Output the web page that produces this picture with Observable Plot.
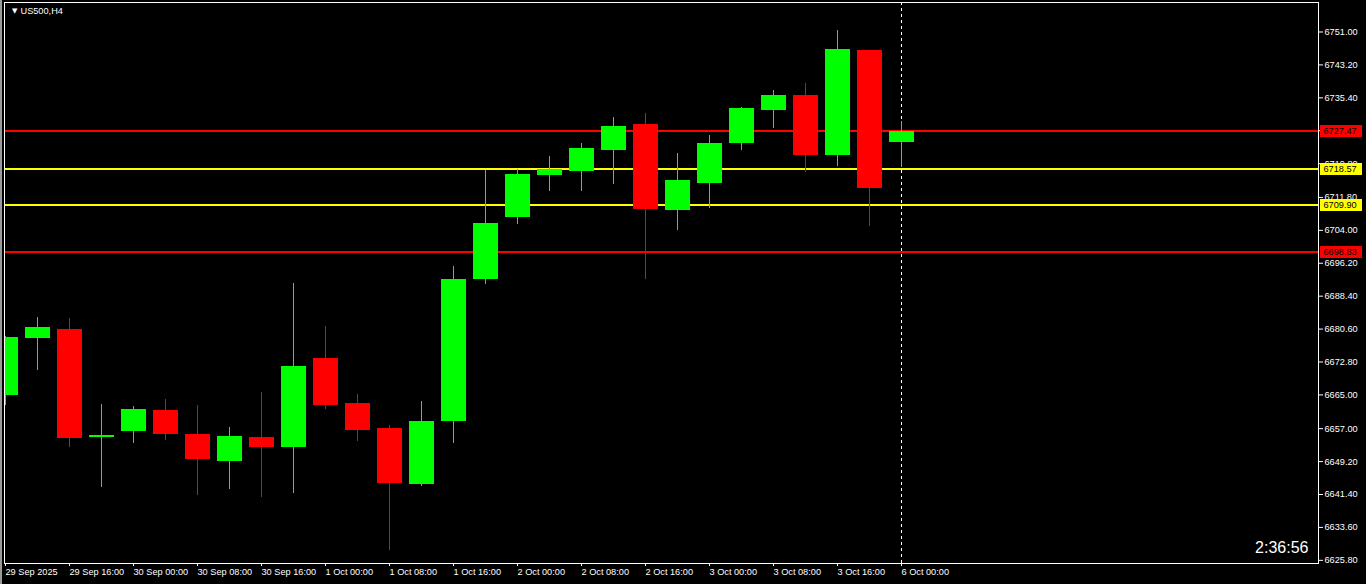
<!DOCTYPE html>
<html><head><meta charset="utf-8">
<script src="https://cdn.jsdelivr.net/npm/d3@7"></script>
<script src="https://cdn.jsdelivr.net/npm/@observablehq/plot@0.6"></script>
<style>
html,body{margin:0;padding:0;background:#000;}
#chart{position:relative;width:1366px;height:584px;overflow:hidden;background:#000;}
#chart svg{display:block;}
.edge{position:absolute;left:0;top:0;width:2px;height:584px;background:#9a9a9a;}
</style></head><body>
<div id="chart"><div class="edge"></div></div>
<script>
// ---- data (US500, H4) ----
const symbol = "US500,H4";
const timer = "2:36:56";
const times = ["29 Sep 08:00","29 Sep 12:00","29 Sep 16:00","29 Sep 20:00","30 Sep 00:00","30 Sep 04:00","30 Sep 08:00","30 Sep 12:00","30 Sep 16:00","30 Sep 20:00","1 Oct 00:00","1 Oct 04:00","1 Oct 08:00","1 Oct 12:00","1 Oct 16:00","1 Oct 20:00","2 Oct 00:00","2 Oct 04:00","2 Oct 08:00","2 Oct 12:00","2 Oct 16:00","2 Oct 20:00","3 Oct 00:00","3 Oct 04:00","3 Oct 08:00","3 Oct 12:00","3 Oct 16:00","3 Oct 20:00","6 Oct 00:00"];
const opens  = [6664.86,6678.44,6680.50,6654.91,6656.40,6661.31,6655.62,6649.22,6654.91,6652.54,6673.63,6662.97,6657.04,6643.77,6658.77,6692.42,6707.11,6717.07,6718.01,6722.99,6729.08,6708.77,6715.17,6724.65,6732.47,6735.95,6721.81,6746.62,6724.89];
const highs  = [6678.85,6683.35,6683.11,6662.73,6662.26,6663.91,6662.49,6657.28,6665.57,6691.40,6681.21,6665.10,6657.75,6663.44,6695.43,6718.18,6718.42,6721.50,6724.58,6730.74,6731.69,6722.21,6726.47,6733.10,6737.14,6738.80,6751.36,6746.70,6729.79];
const lows   = [6662.49,6670.86,6652.61,6643.13,6653.56,6654.27,6641.24,6642.59,6640.69,6641.64,6661.55,6653.96,6628.13,6643.30,6653.49,6691.24,6705.45,6713.27,6713.27,6714.93,6692.42,6704.03,6709.25,6722.99,6728.20,6717.78,6719.20,6704.98,6718.96];
const closes = [6678.61,6680.98,6654.74,6655.38,6661.55,6655.69,6649.77,6655.15,6652.54,6671.73,6662.49,6656.57,6644.01,6658.70,6692.35,6705.62,6717.23,6718.49,6723.39,6728.61,6709.01,6715.81,6724.58,6732.87,6735.95,6721.81,6746.85,6713.99,6727.47];
const xTickIndex  = [0,2,4,6,8,10,12,14,16,18,20,22,24,26,28];
const xTickLabels = ["29 Sep 2025","29 Sep 16:00","30 Sep 00:00","30 Sep 08:00","30 Sep 16:00","1 Oct 00:00","1 Oct 08:00","1 Oct 16:00","2 Oct 00:00","2 Oct 08:00","2 Oct 16:00","3 Oct 00:00","3 Oct 08:00","3 Oct 16:00","6 Oct 00:00"];
const yTickValues = [6751.00,6743.20,6735.40,6727.60,6719.80,6711.80,6704.00,6696.20,6688.40,6680.60,6672.80,6665.00,6657.00,6649.20,6641.40,6633.60,6625.80];
const levelPrices = [6727.47,6718.57,6709.90,6698.83];
const levelColors = ["#ff0000","#ffff00","#ffff00","#ff0000"];
const separatorTime = "6 Oct 00:00";

// ---- build tables ----
const UP = "#00ff00", DOWN = "#ff0000";
const candles = times.map((t, i) => ({i, t, o: opens[i], h: highs[i], l: lows[i], c: closes[i], col: closes[i] >= opens[i] ? UP : DOWN}));
const levels = levelPrices.map((p, i) => ({p, color: levelColors[i]}));
const barStep = 32; // pixels per bar
const pxToIdx = px => (px - 5) / barStep;
const xDomain = [pxToIdx(4), pxToIdx(1318)];
const labelX1 = pxToIdx(1320), labelX2 = pxToIdx(1362);
const sepIdx = times.indexOf(separatorTime);
const font = "'Liberation Sans', Arial, sans-serif";

const chart = Plot.plot({
  width: 1366, height: 584,
  marginLeft: 4, marginRight: 48, marginTop: 2, marginBottom: 21,
  style: {background: "#000", color: "#fff", fontFamily: font, fontSize: "9.2px", overflow: "visible"},
  x: {type: "linear", domain: xDomain},
  y: {type: "linear", domain: [6625.05, 6757.99]},
  marks: [
    Plot.axisY({anchor: "right", ticks: yTickValues, tickFormat: d => d.toFixed(2), tickSize: 4, tickPadding: 2, label: null, fill: "#fff", stroke: "#fff"}),
    Plot.axisX({anchor: "bottom", ticks: xTickIndex, tickFormat: d => xTickLabels[xTickIndex.indexOf(d)], textAnchor: "start", tickSize: 3, tickPadding: 2, label: null, fill: "#fff", stroke: "#fff"}),
    Plot.ruleX([sepIdx], {stroke: "#fff", strokeDasharray: "3,3", shapeRendering: "crispEdges"}),
    Plot.ruleY(levels, {y: "p", stroke: "color", strokeWidth: 2, shapeRendering: "crispEdges"}),
    Plot.ruleX(candles, {x: "i", y1: "l", y2: "h", stroke: "col", strokeWidth: 1, shapeRendering: "crispEdges", clip: true}),
    Plot.rect(candles, {x1: d => d.i - 12 / barStep, x2: d => d.i + 13 / barStep, y1: "o", y2: "c", fill: "col", dx: -0.5, shapeRendering: "crispEdges", clip: true}),
    Plot.ruleY(levels, {y: "p", x1: labelX1, x2: labelX2, stroke: "color", strokeWidth: 12, shapeRendering: "crispEdges"}),
    Plot.text(levels, {y: "p", x: labelX1, text: d => d.p.toFixed(2), textAnchor: "start", dx: 3, fill: "#000"}),
    Plot.frame({stroke: "#fff"}),
    Plot.text(["\u25BC"], {frameAnchor: "top-left", dx: 7.5, dy: 8.5, lineAnchor: "middle", fontSize: 7, fill: "#fff", fontFamily: "'DejaVu Sans'"}),
    Plot.text([symbol], {frameAnchor: "top-left", dx: 16, dy: 8.5, textAnchor: "start", lineAnchor: "middle", fill: "#fff"}),
    Plot.text([timer], {frameAnchor: "bottom-right", dx: -10, dy: -11, textAnchor: "end", lineAnchor: "bottom", fontSize: 16, fill: "#fff"})
  ]
});
document.getElementById("chart").appendChild(chart);
</script>
</body></html>
